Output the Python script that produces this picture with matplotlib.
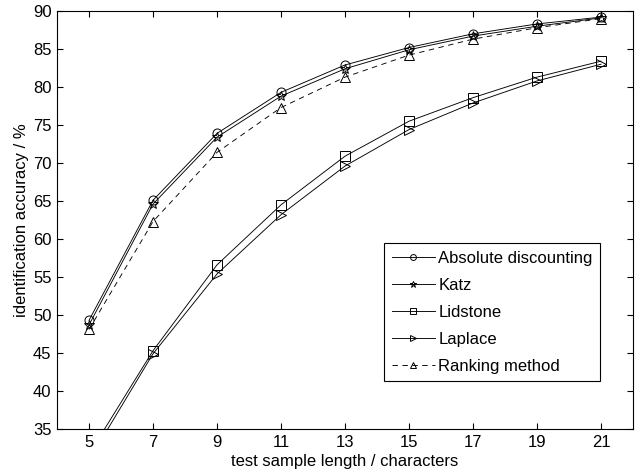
import matplotlib
matplotlib.use("Agg")
import matplotlib.pyplot as plt

plt.rcParams["font.family"] = ["Liberation Sans", "DejaVu Sans"]
plt.rcParams["font.size"] = 12

# test sample length (characters)
lengths = [5, 7, 9, 11, 13, 15, 17, 19, 21]

# identification accuracy (%) per smoothing method
absolute_disc = [49.3, 65.1, 73.9, 79.3, 82.9, 85.2, 87.0, 88.3, 89.2]
katz = [48.7, 64.6, 73.4, 78.8, 82.4, 84.9, 86.7, 88.0, 89.1]
lidstone = [31.7, 45.3, 56.6, 64.5, 70.9, 75.5, 78.6, 81.3, 83.4]
laplace = [30.9, 44.9, 55.4, 63.2, 69.6, 74.4, 77.9, 80.8, 83.0]
ranking = [48.1, 62.3, 71.4, 77.3, 81.3, 84.2, 86.3, 87.8, 89.0]

SERIES = [
    ("Absolute discounting", absolute_disc, "o", "-"),
    ("Katz", katz, "*", "-"),
    ("Lidstone", lidstone, "s", "-"),
    ("Laplace", laplace, ">", "-"),
    ("Ranking method", ranking, "^", "--"),
]

fig = plt.figure(figsize=(6.42, 4.73), dpi=100)
ax = fig.add_axes([0.0888, 0.093, 0.8972, 0.8837])

for label, vals, marker, ls in SERIES:
    line, = ax.plot(lengths, vals, color="black", linewidth=0.65, linestyle=ls,
                    marker=marker, markersize=6.5 if marker != "*" else 7.5,
                    markerfacecolor="none", markeredgecolor="black",
                    markeredgewidth=0.7, label=label)
    if ls == "--":
        line.set_dashes((6, 5))

ax.set_xlim(4, 22)
ax.set_ylim(35, 90)
ax.set_xticks(lengths)
ax.set_yticks(range(35, 91, 5))
ax.tick_params(direction="in", length=4, width=0.8, top=True, right=True,
               labelsize=12, pad=4)
for sp in ax.spines.values():
    sp.set_linewidth(0.8)

ax.set_xlabel("test sample length / characters", fontsize=12, labelpad=3)
ax.set_ylabel("identification accuracy / %", fontsize=12, labelpad=2.5)

leg = ax.legend(loc="upper left", bbox_to_anchor=(0.568, 0.445),
                borderaxespad=0, fancybox=False, framealpha=1,
                edgecolor="black", fontsize=12, markerscale=0.65,
                handlelength=2.6, handletextpad=0.2, labelspacing=0.72,
                borderpad=0.45)
leg.get_frame().set_linewidth(0.8)

fig.savefig("out.png", dpi=100)
